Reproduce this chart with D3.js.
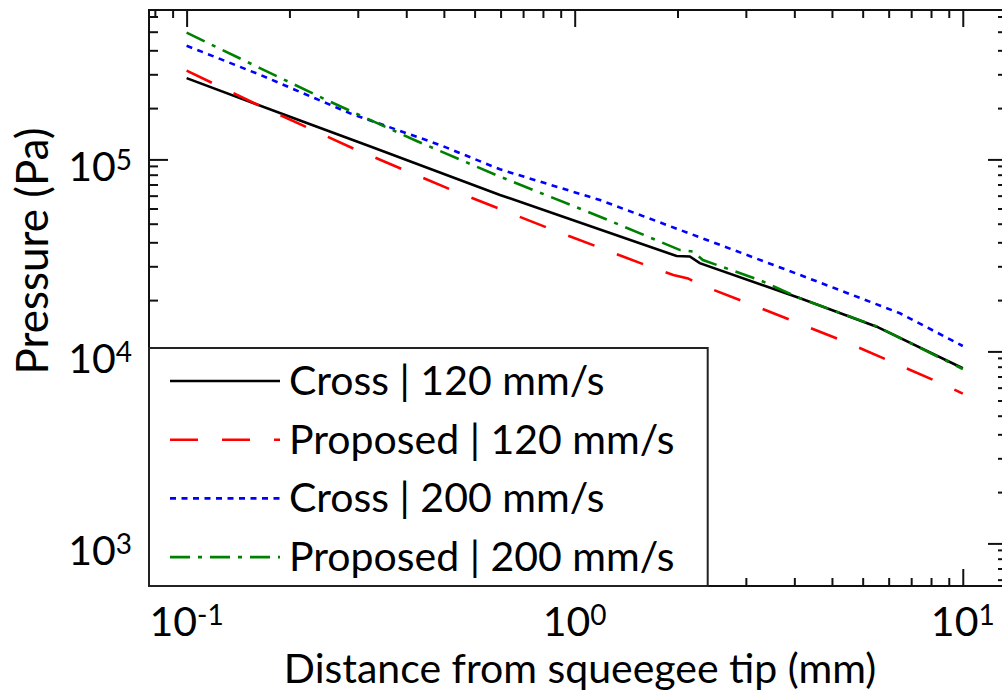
<!DOCTYPE html>
<html>
<head>
<meta charset="utf-8">
<script src="https://cdn.jsdelivr.net/npm/d3@7"></script>
<style>
  body { margin: 0; background: #fff; }
  svg { display: block; font-family: Lato, "Open Sans", sans-serif; }
</style>
</head>
<body>
<script>
// distance from squeegee tip (mm) and pressure (Pa)
var crossDist120 = [0.1, 0.2, 0.3, 0.642, 1.0, 1.83, 1.98, 2.1, 3.81, 6.0, 10];
var crossPres120 = [2.65e5, 1.57e5, 1.16e5, 6.53e4, 4.79e4, 3.14e4, 3.12e4, 2.88e4, 1.89e4, 1.345e4, 8.17e3];

var propDist120 = [0.1, 0.1545, 0.2716, 0.482, 0.867, 1.563, 1.795, 1.959, 2.083, 2.802, 5.02, 8.91, 10];
var propPres120 = [2.9e5, 1.9e5, 1.13e5, 6.93e4, 4.34e4, 2.76e4, 2.5e4, 2.4e4, 2.244e4, 1.78e4, 1.115e4, 6.74e3, 6.03e3];

var crossDist200 = [0.1, 0.1545, 0.2636, 0.4496, 0.642, 1.162, 2.1, 3.81, 6.89, 10];
var crossPres200 = [3.91e5, 2.76e5, 1.738e5, 1.189e5, 8.88e4, 6.14e4, 3.93e4, 2.5e4, 1.58e4, 1.067e4];

var propDist200 = [0.1, 0.1545, 0.234, 0.3915, 0.642, 1.162, 1.87, 2.02, 2.14, 3.0, 3.81, 6.0, 10];
var propPres200 = [4.57e5, 2.99e5, 2.0e5, 1.247e5, 8.13e4, 5.03e4, 3.37e4, 3.31e4, 2.99e4, 2.35e4, 1.89e4, 1.35e4, 8.1e3];

var seriesNames = ["Cross | 120 mm/s", "Proposed | 120 mm/s", "Cross | 200 mm/s", "Proposed | 200 mm/s"];
var seriesColors = ["#000000", "#ff0000", "#0000ff", "#008000"];
var seriesDash = [null, "28,24", "6,5.5", "20,8,4,8"];

// major ticks are powers of ten
var xTickExps = [-1, 0, 1];
var yTickExps = [3, 4, 5];

var series = [
  {dist: crossDist120, pres: crossPres120},
  {dist: propDist120, pres: propPres120},
  {dist: crossDist200, pres: crossPres200},
  {dist: propDist200, pres: propPres200}
].map(function(s, i) {
  return {
    name: seriesNames[i], color: seriesColors[i], dash: seriesDash[i],
    values: s.dist.map(function(d, j) { return {x: d, y: s.pres[j]}; })
  };
});

var margin = {top: 10, left: 149},
    width = 858,
    height = 576;

var svg = d3.select("body").append("svg")
    .attr("width", 1002)
    .attr("height", 696);

var g = svg.append("g")
    .attr("transform", "translate(" + margin.left + "," + margin.top + ")");

var x = d3.scaleLog().domain([0.08, 13]).range([0, width]);
var y = d3.scaleLog().domain([600, 6e5]).range([height, 0]);

// the minor ticks in the original sit a few pixels off the major ones
var xMinor = x.copy().range([-14, width - 14]);
var yMinor = y.copy().range([height + 6.5, 6.5]);

function minorValues(scale, lo, hi, size) {
  var vals = [];
  for (var e = lo; e <= hi; e++) {
    for (var k = 1; k <= 9; k++) vals.push(k * Math.pow(10, e));
  }
  return vals.filter(function(v) {
    var p = scale(v);
    return p > 1 && p < size - 1;
  });
}

var xMajor = xTickExps.map(function(e) { return Math.pow(10, e); });
var yMajor = yTickExps.map(function(e) { return Math.pow(10, e); });
var xMinorVals = minorValues(xMinor, -2, 1, width);
var yMinorVals = minorValues(yMinor, 2, 5, height);

function drawAxis(axis, tx, ty) {
  var a = g.append("g")
      .attr("class", "axis")
      .attr("transform", "translate(" + tx + "," + ty + ")")
      .call(axis.tickFormat(""));
  a.select(".domain").remove();
  a.selectAll("line").attr("stroke", "#111").attr("stroke-width", 2);
}

// bottom and top
drawAxis(d3.axisTop(x).tickValues(xMajor).tickSize(17), 0, height);
drawAxis(d3.axisTop(xMinor).tickValues(xMinorVals).tickSize(8), 0, height);
drawAxis(d3.axisBottom(x).tickValues(xMajor).tickSize(17), 0, 0);
drawAxis(d3.axisBottom(xMinor).tickValues(xMinorVals).tickSize(8), 0, 0);
// left and right
drawAxis(d3.axisRight(y).tickValues(yMajor).tickSize(19), 0, 0);
drawAxis(d3.axisRight(yMinor).tickValues(yMinorVals).tickSize(9), 0, 0);
drawAxis(d3.axisLeft(y).tickValues(yMajor).tickSize(19), width, 0);
drawAxis(d3.axisLeft(yMinor).tickValues(yMinorVals).tickSize(9), width, 0);

// series lines
var line = d3.line()
    .x(function(d) { return x(d.x); })
    .y(function(d) { return y(d.y); });

g.selectAll(".series")
  .data(series)
  .enter().append("path")
    .attr("class", "series")
    .attr("fill", "none")
    .attr("stroke", function(d) { return d.color; })
    .attr("stroke-width", 2.6)
    .attr("stroke-dasharray", function(d) { return d.dash; })
    .attr("d", function(d) { return line(d.values); });

// frame
g.append("rect")
    .attr("width", width)
    .attr("height", height)
    .attr("fill", "none")
    .attr("stroke", "#111")
    .attr("stroke-width", 2);

// tick labels, 10 with a superscript exponent
var xLabels = g.selectAll(".xlabel")
  .data(xTickExps)
  .enter().append("text")
    .attr("class", "xlabel")
    .attr("x", function(e) { return x(Math.pow(10, e)); })
    .attr("y", height + 50)
    .attr("text-anchor", "middle")
    .attr("font-size", 41);
xLabels.append("tspan").text("10");
xLabels.append("tspan").attr("font-size", 28).attr("dy", -11).text(function(e) { return e; });

var yLabels = g.selectAll(".ylabel")
  .data(yTickExps)
  .enter().append("text")
    .attr("class", "ylabel")
    .attr("x", -17)
    .attr("y", function(e) { return y(Math.pow(10, e)) + 22; })
    .attr("text-anchor", "end")
    .attr("font-size", 41);
yLabels.append("tspan").text("10");
yLabels.append("tspan").attr("font-size", 28).attr("dy", -11).text(function(e) { return e; });

// axis titles
g.append("text")
    .attr("x", width / 2 + 2)
    .attr("y", height + 97)
    .attr("text-anchor", "middle")
    .attr("font-size", 41)
    .text("Distance from squeegee tip (mm)");

svg.append("text")
    .attr("transform", "translate(48,251) rotate(-90)")
    .attr("text-anchor", "middle")
    .attr("font-size", 44)
    .text("Pressure (Pa)");

// legend box in the lower left corner, it hides the lines behind it
var legend = g.append("g").attr("class", "legend");
legend.append("rect")
    .attr("x", 0)
    .attr("y", 338)
    .attr("width", 558.7)
    .attr("height", height - 338)
    .attr("fill", "#fff")
    .attr("stroke", "#222")
    .attr("stroke-width", 2);

var rows = legend.selectAll(".row")
  .data(series)
  .enter().append("g")
    .attr("class", "row")
    .attr("transform", function(d, i) { return "translate(0," + (371 + i * 58.7) + ")"; });

rows.append("line")
    .attr("x1", 21)
    .attr("x2", 131)
    .attr("stroke", function(d) { return d.color; })
    .attr("stroke-width", 2.6)
    .attr("stroke-dasharray", function(d) { return d.dash; });

rows.append("text")
    .attr("x", 140)
    .attr("y", 14)
    .attr("font-size", 41)
    .text(function(d) { return d.name; });
</script>
</body>
</html>
